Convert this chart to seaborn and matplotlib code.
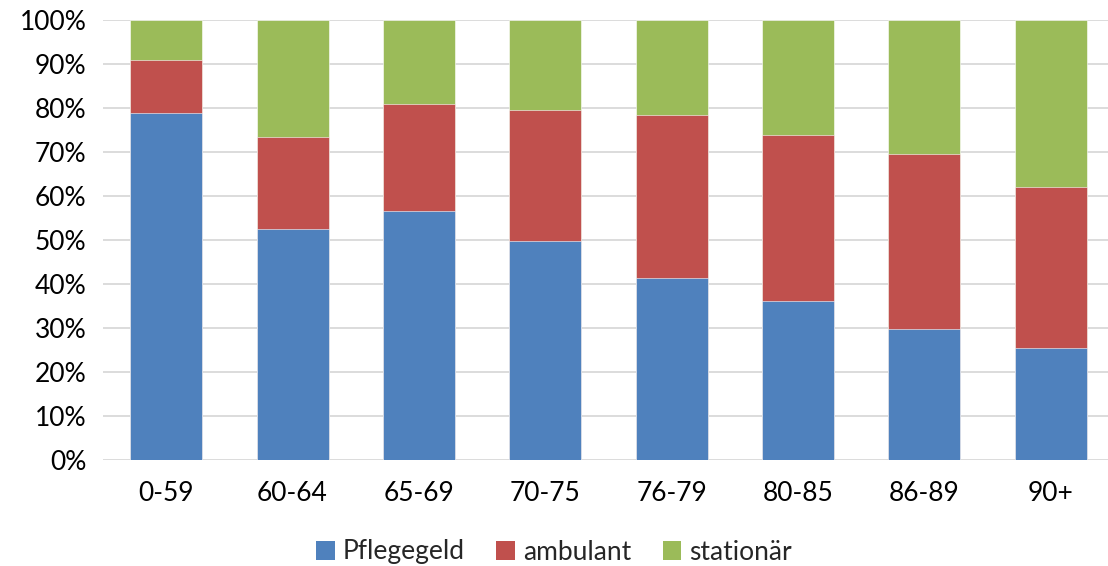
import matplotlib
matplotlib.use("Agg")
import matplotlib.pyplot as plt
import numpy as np
import pandas as pd
import seaborn as sns
from matplotlib.patches import Patch
from matplotlib.ticker import FuncFormatter, MultipleLocator

sns.set_theme(style="white")
plt.rcParams['font.family'] = ['Lato', 'DejaVu Sans']

age_groups = ['0-59', '60-64', '65-69', '70-75', '76-79', '80-85', '86-89', '90+']
pflegegeld = [78.9, 52.6, 56.5, 49.8, 41.4, 36.1, 29.8, 25.5]
ambulant = [12.1, 20.7, 24.3, 29.8, 36.9, 37.8, 39.8, 36.5]
stationaer = [9.0, 26.7, 19.2, 20.4, 21.7, 26.1, 30.4, 38.0]

series_names = ['Pflegegeld', 'ambulant', 'stationär']
colors = ['#4F81BD', '#C0504D', '#9BBB59']

df = pd.DataFrame({'age': age_groups, 'Pflegegeld': pflegegeld,
                   'ambulant': ambulant, 'stationär': stationaer})
cum = df[series_names].cumsum(axis=1)

fig = plt.figure(figsize=(11.08, 5.66), dpi=100)
ax = fig.add_axes([103 / 1108, 106 / 566, (1114 - 103) / 1108, 440 / 566])

# draw stacked bars from the top segment down so each covers the one below
for name, col in reversed(list(zip(series_names, colors))):
    sns.barplot(x=df['age'], y=cum[name], color=col, saturation=1, width=0.57,
                edgecolor='white', linewidth=0.4, ax=ax, zorder=3)

ax.set_ylim(0, 100)
ax.set_xlim(-0.5, len(age_groups) - 0.5)
ax.yaxis.set_major_locator(MultipleLocator(10))
ax.yaxis.set_major_formatter(FuncFormatter(lambda v, p: f'{v:.0f}%'))
ax.grid(axis='y', color='#D9D9D9', linewidth=1.3, zorder=0)
ax.set_axisbelow(True)
for s in ax.spines.values():
    s.set_visible(False)
ax.set_xlabel('')
ax.set_ylabel('')
ax.tick_params(axis='both', length=0, labelsize=19, colors='black')
ax.tick_params(axis='x', pad=15)
ax.tick_params(axis='y', pad=12)

handles = [Patch(facecolor=c, edgecolor='none', label=n) for n, c in zip(series_names, colors)]
fig.legend(handles=handles, loc='center', bbox_to_anchor=(0.5, 1 - 552 / 566), ncol=3,
           frameon=False, fontsize=19, handlelength=0.7, handleheight=0.7,
           handletextpad=0.3, columnspacing=1.2)

fig.savefig('out.png', dpi=100)
